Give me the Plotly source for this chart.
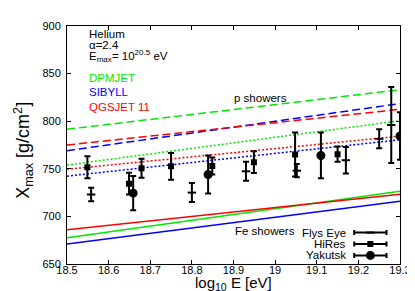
import plotly.graph_objects as go

# ---------------- data ----------------
energy_ends = [18.5, 19.3]

# proton showers (dashed)
p_dpmjet = [791.5, 833.0]
p_sibyll = [769.0, 818.5]
p_qgsjet = [775.0, 812.5]

# helium (dotted)
he_dpmjet = [754.0, 800.5]
he_sibyll = [742.3, 780.5]
he_qgsjet = [749.5, 784.3]

# iron showers (solid)
fe_dpmjet = [677.5, 726.5]
fe_sibyll = [671.0, 716.0]
fe_qgsjet = [686.0, 723.3]

# measurements
flyseye_E = [18.558, 18.80, 18.93, 19.052, 19.17, 19.25, 19.279]
flyseye_X = [723.0, 725.0, 747.4, 748.0, 759.0, 781.5, 796.0]
flyseye_err = [7.0, 10.0, 10.0, 7.0, 14.0, 10.0, 40.0]

hires_E = [18.549, 18.649, 18.679, 18.75, 18.849, 18.949, 19.048, 19.15]
hires_X = [751.6, 734.4, 750.5, 752.6, 753.0, 757.0, 765.0, 765.4]
hires_err = [11.5, 11.5, 10.0, 14.0, 9.0, 11.5, 23.0, 8.0]

yakutsk_E = [18.659, 18.839, 19.11, 19.30]
yakutsk_X = [724.4, 744.0, 764.0, 784.5]
yakutsk_err = [18.0, 20.0, 24.0, 25.0]

x_tickvals = [18.5, 18.6, 18.7, 18.8, 18.9, 19.0, 19.1, 19.2, 19.3]
x_ticktext = ["18.5", "18.6", "18.7", "18.8", "18.9", "19", "19.1", "19.2", "19.3"]
y_tickvals = [650, 700, 750, 800, 850, 900]

model_names = ["DPMJET", "SIBYLL", "QGSJET 11"]
model_colors = ["#00e600", "#0000ff", "#ff0000"]

legend_names = ["Flys Eye", "HiRes", "Yakutsk"]
legend_symbols = ["line-ew", "square", "circle"]
legend_sizes = [6, 4, 7]

FONT = "Liberation Sans, Arial, sans-serif"

fig = go.Figure()

sets = [
    ([p_dpmjet, p_sibyll, p_qgsjet], "8px,4px"),
    ([he_dpmjet, he_sibyll, he_qgsjet], "2px,2px"),
    ([fe_dpmjet, fe_sibyll, fe_qgsjet], "solid"),
]
for curves, dash in sets:
    for vals, col in zip(curves, model_colors):
        fig.add_trace(go.Scatter(
            x=energy_ends, y=vals, mode="lines",
            line=dict(color=col, width=1.5, dash=dash),
            showlegend=False, hoverinfo="skip"))

def data_trace(E, X, err, symbol, size):
    return go.Scatter(
        x=E, y=X, mode="markers",
        marker=dict(symbol=symbol, size=size, color="black",
                    line=dict(color="black", width=2)),
        error_y=dict(type="data", array=err, visible=True,
                     color="black", thickness=2, width=3),
        showlegend=False)

fig.add_trace(data_trace(flyseye_E, flyseye_X, flyseye_err, "line-ew", 6))
fig.add_trace(data_trace(hires_E, hires_X, hires_err, "square", 4))
fig.add_trace(data_trace(yakutsk_E, yakutsk_X, yakutsk_err, "circle", 7))

# legend samples on an overlay axis with a 0..1 range
leg_x = 0.911
leg_half = 0.0485
leg_y = [0.132, 0.0839, 0.036]
for name, sym, sz, yy in zip(legend_names, legend_symbols, legend_sizes, leg_y):
    fig.add_trace(go.Scatter(
        x=[leg_x], y=[yy], mode="markers", xaxis="x2", yaxis="y2",
        marker=dict(symbol=sym, size=sz, color="black",
                    line=dict(color="black", width=2)),
        error_x=dict(type="constant", value=leg_half, visible=True,
                     color="black", thickness=2, width=2.5),
        showlegend=False, hoverinfo="skip"))

annotations = []
def txt(text, x, y, size=11, color="black", xanchor="left", angle=0, yanchor="middle"):
    annotations.append(dict(
        text=text, x=x, y=y, xref="paper", yref="paper",
        xanchor=xanchor, yanchor=yanchor, showarrow=False, borderpad=0,
        textangle=angle, font=dict(family=FONT, size=size, color=color)))

txt("Helium", 0.062, 0.968, 11.5)
txt("α=2.4", 0.062, 0.920, 11.5)
txt("E<sub>max</sub>= 10<sup>20.5</sup> eV", 0.062, 0.872, 11.5)
for name, col, yy in zip(model_names, model_colors, [0.782, 0.723, 0.658]):
    txt(name, 0.062, yy, 11.5, col)
txt("p showers", 0.497, 0.697, 11.5)
txt("Fe showers", 0.500, 0.138, 11.5)
for name, yy in zip(legend_names, leg_y):
    txt(name, 0.842, yy, 11.5, xanchor="right")

txt("log<sub>10</sub> E [eV]", 0.5, -0.124, 15, xanchor="center", yanchor="bottom")
txt("X<sub>max</sub> [g/cm<sup>2</sup>]", -0.13, 0.479, 18, xanchor="center", angle=-90)

axis_common = dict(
    showline=True, linecolor="black", linewidth=1, mirror="ticks",
    ticks="inside", ticklen=4, tickcolor="black", tickwidth=1,
    showgrid=False, zeroline=False,
    tickfont=dict(family=FONT, size=11, color="black"))

fig.update_layout(
    width=415, height=291,
    margin=dict(l=59, r=19, t=14, b=35),
    paper_bgcolor="white", plot_bgcolor="white",
    showlegend=False,
    xaxis=dict(range=[18.5, 19.3], tickvals=x_tickvals, ticktext=x_ticktext,
               ticklabelstandoff=-4, **axis_common),
    yaxis=dict(range=[650, 900], tickvals=y_tickvals,
               ticklabelstandoff=3, **axis_common),
    xaxis2=dict(range=[0, 1], overlaying="x", visible=False),
    yaxis2=dict(range=[0, 1], overlaying="y", visible=False),
    annotations=annotations,
)

fig.write_html("out.html")
